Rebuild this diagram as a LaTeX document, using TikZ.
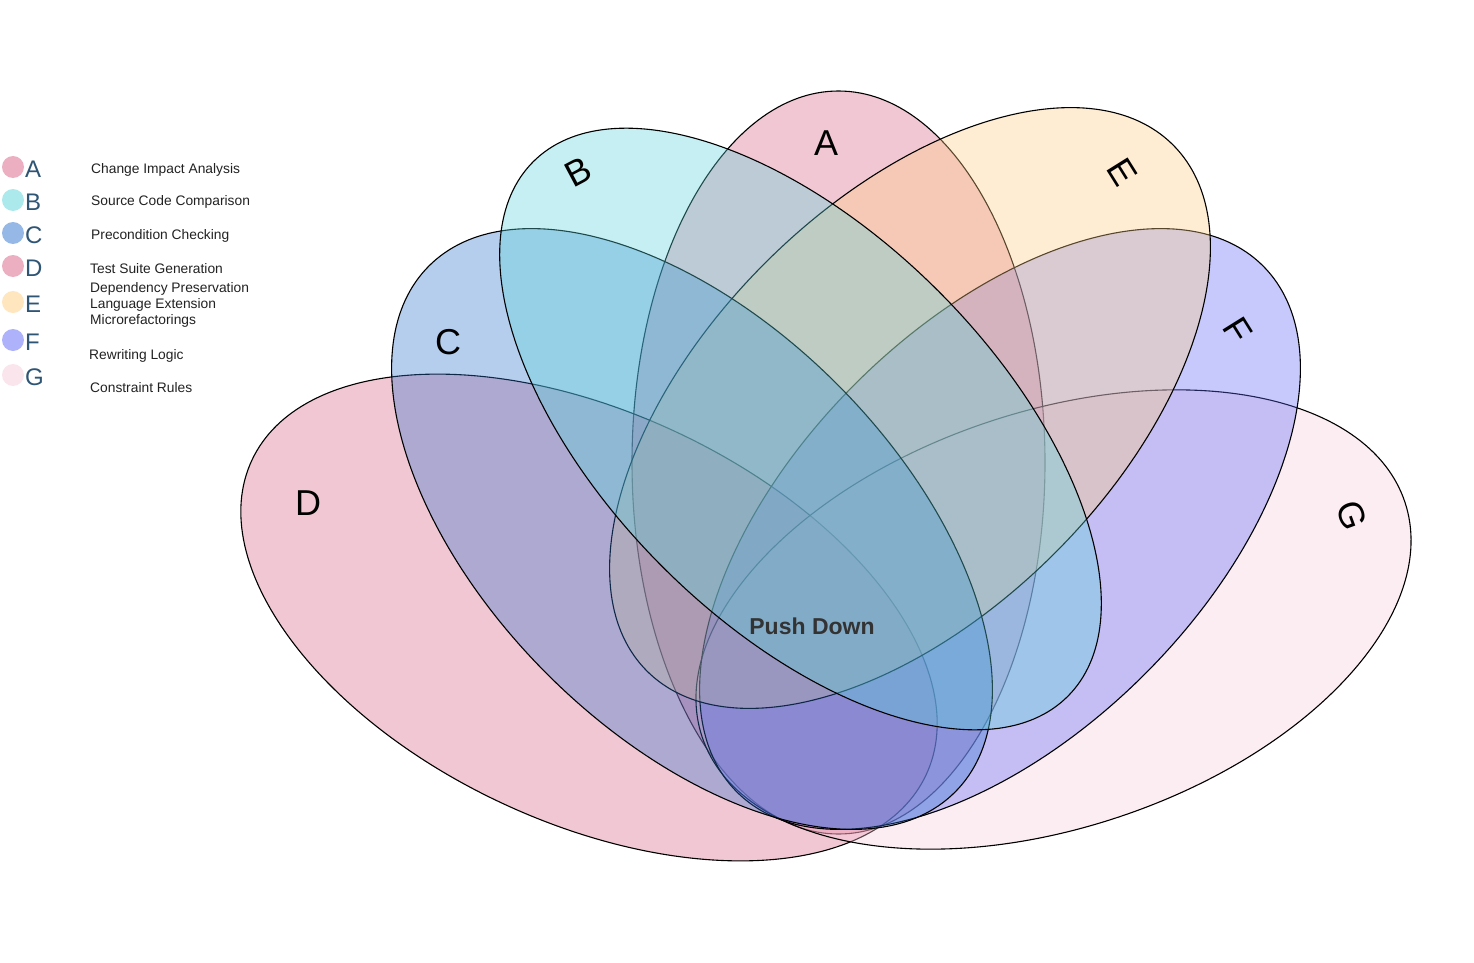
\documentclass[tikz,border=0pt]{standalone}
\usepackage{fontspec}
\setmainfont{Liberation Sans}
\definecolor{colA}{RGB}{218,95,132}
\definecolor{colB}{RGB}{89,212,218}
\definecolor{colC}{RGB}{46,115,206}
\definecolor{colD}{RGB}{218,95,132}
\definecolor{colE}{RGB}{255,206,129}
\definecolor{colF}{RGB}{95,103,249}
\definecolor{colG}{RGB}{249,204,218}
\definecolor{legblue}{RGB}{47,85,117}
\definecolor{legtxt}{RGB}{34,34,34}
\definecolor{centertxt}{RGB}{51,51,51}
\begin{document}
\begin{tikzpicture}[x=1pt,y=-1pt,
  venn/.style={draw=black, line width=1.1pt, fill opacity=0.35},
  biglabel/.style={font=\fontsize{36}{40}\selectfont, text=black, inner sep=0pt},
  legdot/.style={circle, inner sep=0pt, minimum size=22pt, fill opacity=0.5},
  legletter/.style={font=\fontsize{24}{27}\selectfont, text=legblue, anchor=west, inner sep=0pt},
  legtext/.style={font=\fontsize{13.8}{16}\selectfont, text=legtxt, anchor=west, inner sep=0pt}]
\useasboundingbox[fill=white] (0,0) rectangle (1474,963);

% ellipses
\path[venn, fill=colA] (838.5,462.5) ellipse [x radius=206.5pt, y radius=371.5pt];
\path[venn, fill=colD, rotate around={-25:(589,617.5)}] (589,617.5) ellipse [x radius=372pt, y radius=205pt];
\path[venn, fill=colG, rotate around={18.5:(1053.5,619.5)}] (1053.5,619.5) ellipse [x radius=370.5pt, y radius=208pt];
\path[venn, fill=colF, rotate around={45:(1000,529)}] (1000,529) ellipse [x radius=372pt, y radius=205pt];
\path[venn, fill=colE, rotate around={45:(910,408)}] (910,408) ellipse [x radius=372pt, y radius=205pt];
\path[venn, fill=colC, rotate around={-45:(692,529)}] (692,529) ellipse [x radius=372pt, y radius=205pt];
\path[venn, fill=colB, rotate around={-45:(800.5,429)}] (800.5,429) ellipse [x radius=378pt, y radius=195pt];

% set labels
\node[biglabel] (labA) at (826,143) {A};
\node[biglabel, rotate=28] (labB) at (578,172) {B};
\node[biglabel] (labC) at (448,342) {C};
\node[biglabel] (labD) at (308,503) {D};
\node[biglabel, rotate=-58] (labE) at (1122,172) {E};
\node[biglabel, rotate=-58] (labF) at (1238,330) {F};
\node[biglabel, rotate=-70] (labG) at (1352,515) {G};

\node[font=\bfseries\fontsize{23}{26}\selectfont, text=centertxt, inner sep=0pt] (center) at (812,626) {Push Down};

% legend
\node[legdot, fill=colA] (dotA) at (13,167) {};
\node[legdot, fill=colB] (dotB) at (13,200) {};
\node[legdot, fill=colC] (dotC) at (13,233) {};
\node[legdot, fill=colD] (dotD) at (13,266) {};
\node[legdot, fill=colE] (dotE) at (13,302) {};
\node[legdot, fill=colF] (dotF) at (13,340) {};
\node[legdot, fill=colG] (dotG) at (13,375) {};
\node[legletter] (letA) at (25,169) {A};
\node[legletter] (letB) at (25,202) {B};
\node[legletter] (letC) at (25,235) {C};
\node[legletter] (letD) at (25,268) {D};
\node[legletter] (letE) at (25,304) {E};
\node[legletter] (letF) at (25,342) {F};
\node[legletter] (letG) at (25,377) {G};
\node[legtext] (txtA) at (91,169.5) {Change Impact Analysis};
\node[legtext] (txtB) at (91,201.5) {Source Code Comparison};
\node[legtext] (txtC) at (91,235.5) {Precondition Checking};
\node[legtext] (txtD) at (90,268.5) {Test Suite Generation};
\node[legtext] (txtE1) at (90,288.5) {Dependency Preservation};
\node[legtext] (txtE2) at (90,304.5) {Language Extension};
\node[legtext] (txtE3) at (90,320.5) {Microrefactorings};
\node[legtext] (txtF) at (89,355.5) {Rewriting Logic};
\node[legtext] (txtG) at (90,387.5) {Constraint Rules};
\end{tikzpicture}
\end{document}
